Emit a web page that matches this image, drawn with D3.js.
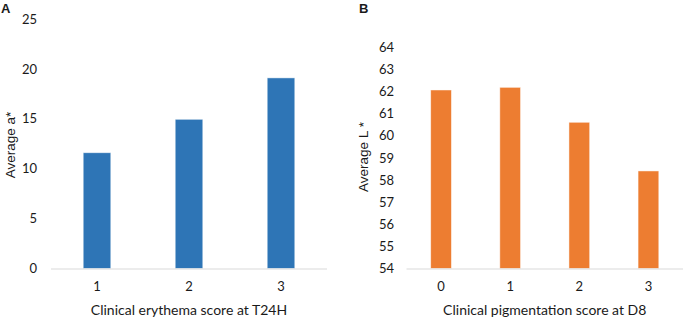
<!DOCTYPE html>
<html>
<head>
<meta charset="utf-8">
<script src="https://cdn.jsdelivr.net/npm/d3@7"></script>
<style>
  body { margin: 0; background: #fff; }
  svg text { font-family: Lato, "Open Sans", sans-serif; fill: #1a1a1a; }
  .panel-label, .y-title { font-family: "Liberation Sans", Arial, sans-serif; }
  .panel-label { font-weight: bold; }
</style>
</head>
<body>
<svg id="chart" width="685" height="319"></svg>
<script>
// panel A
var erythemaScores = ['1', '2', '3']
var averageA = [11.6, 14.95, 19.1]
var aTicks = [0, 5, 10, 15, 20, 25]

// panel B
var pigmentScores = ['0', '1', '2', '3']
var averageL = [62.07, 62.19, 60.61, 58.41]
var lTicks = [54, 55, 56, 57, 58, 59, 60, 61, 62, 63, 64]

var svg = d3.select('#chart')

function drawPanel (opts) {
  var g = svg.append('g')

  var x = d3.scaleBand()
    .domain(opts.categories)
    .range([opts.left, opts.right])
    .paddingInner(0.7)
    .paddingOuter(0.35)

  var y = d3.scaleLinear()
    .domain(opts.domain)
    .range([opts.bottom, opts.top])

  g.selectAll('rect')
    .data(opts.values).enter().append('rect')
    .attr('x', function (d, i) { return x(opts.categories[i]) })
    .attr('y', function (d) { return y(d) })
    .attr('width', x.bandwidth())
    .attr('height', function (d) { return opts.bottom - y(d) })
    .attr('fill', opts.color)
    .attr('stroke', '#fff')
    .attr('stroke-opacity', 0.6)
    .attr('stroke-width', 0.8)

  // baseline
  g.append('line')
    .attr('x1', opts.left).attr('x2', opts.right)
    .attr('y1', opts.bottom + 0.5).attr('y2', opts.bottom + 0.5)
    .attr('stroke', '#d9d9d9')
    .attr('stroke-width', 1)

  var gY = g.append('g')
    .attr('transform', 'translate(' + opts.yLabelX + ',0)')
    .call(d3.axisLeft(y).tickValues(opts.ticks).tickSize(0).tickPadding(0))
  gY.select('.domain').remove()
  gY.selectAll('text').attr('font-size', 13).attr('fill', '#1a1a1a').attr('font-family', null)

  var gX = g.append('g')
    .attr('transform', 'translate(0,' + opts.bottom + ')')
    .call(d3.axisBottom(x).tickSize(0).tickPadding(13))
  gX.select('.domain').remove()
  gX.selectAll('text').attr('font-size', 13).attr('fill', '#1a1a1a').attr('font-family', null)

  g.append('text')
    .attr('x', (opts.left + opts.right) / 2)
    .attr('y', 315)
    .attr('text-anchor', 'middle')
    .attr('font-size', 14)
    .text(opts.xTitle)

  g.append('text')
    .attr('class', 'y-title')
    .attr('transform', 'translate(' + opts.yTitleX + ',' + opts.yTitleY + ') rotate(-90)')
    .attr('text-anchor', 'middle')
    .attr('font-size', 13.5)
    .text(opts.yTitle)

  g.append('text')
    .attr('class', 'panel-label')
    .attr('x', opts.labelX)
    .attr('y', 12.5)
    .attr('font-size', 13)
    .text(opts.label)
}

drawPanel({
  categories: erythemaScores,
  values: averageA,
  ticks: aTicks,
  domain: [0, 25],
  left: 51, right: 327, top: 19, bottom: 268.5,
  yLabelX: 37,
  color: '#2e75b6',
  xTitle: 'Clinical erythema score at T24H',
  yTitle: 'Average a*',
  yTitleX: 14.5, yTitleY: 145,
  label: 'A', labelX: 1
})

drawPanel({
  categories: pigmentScores,
  values: averageL,
  ticks: lTicks,
  domain: [54, 64],
  left: 406.5, right: 683, top: 47.3, bottom: 268.5,
  yLabelX: 394,
  color: '#ed7d31',
  xTitle: 'Clinical pigmentation score at D8',
  yTitle: 'Average L *',
  yTitleX: 368, yTitleY: 157,
  label: 'B', labelX: 359
})
</script>
</body>
</html>
